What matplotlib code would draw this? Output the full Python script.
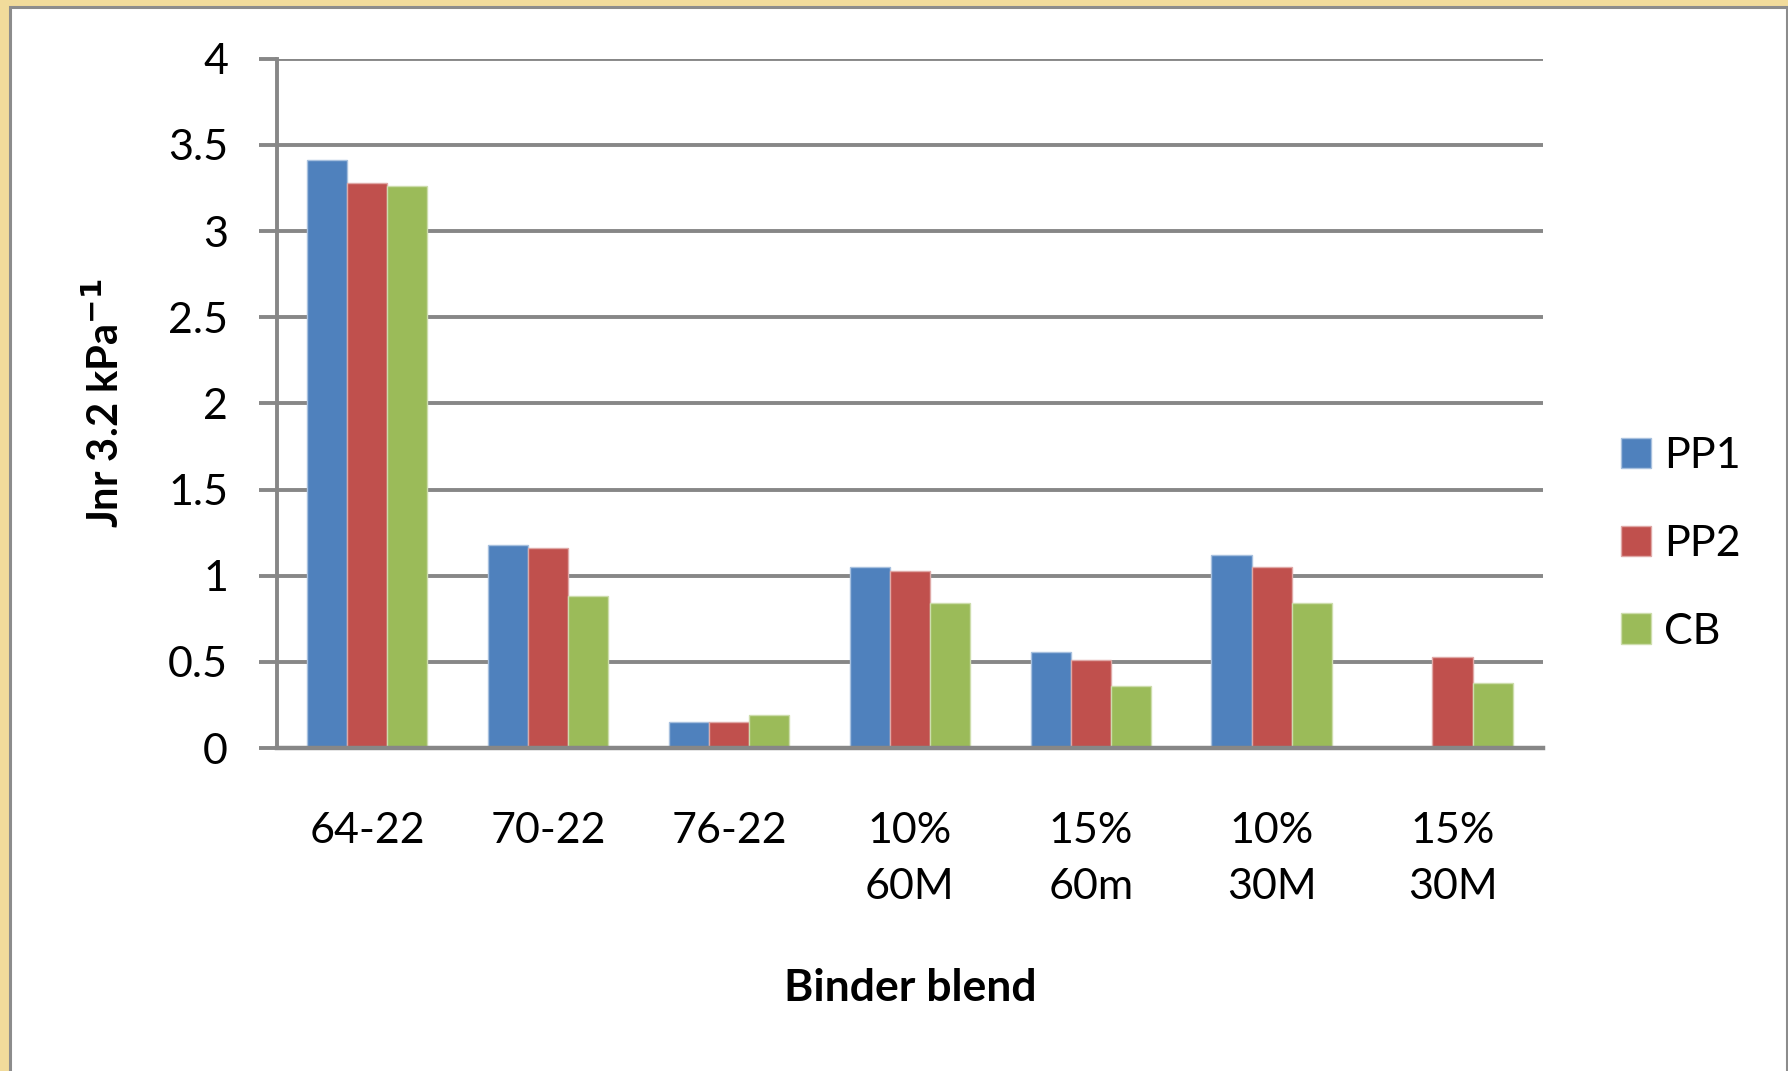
import numpy as np
import matplotlib
matplotlib.use("Agg")
import matplotlib.pyplot as plt
from matplotlib.patches import Rectangle

plt.rcParams['font.family'] = ['Lato', 'DejaVu Sans']

# Jnr at 3.2 kPa for each binder blend
blends = ["64-22", "70-22", "76-22", "10%\n60M", "15%\n60m", "10%\n30M", "15%\n30M"]
pp1 = [3.41, 1.18, 0.15, 1.05, 0.56, 1.12, np.nan]
pp2 = [3.28, 1.16, 0.15, 1.03, 0.51, 1.05, 0.53]
cb = [3.26, 0.88, 0.19, 0.84, 0.36, 0.84, 0.38]
series = [("PP1", pp1), ("PP2", pp2), ("CB", cb)]
colors = ["#4F81BD", "#C0504D", "#9BBB59"]
edges = ["#A7C0DE", "#DFA8A6", "#CDDDAC"]
y_ticks = [0, 0.5, 1, 1.5, 2, 2.5, 3, 3.5, 4]
y_ticklabels = ["0", "0.5", "1", "1.5", "2", "2.5", "3", "3.5", "4"]

W, H = 1788, 1071
fig = plt.figure(figsize=(W / 100, H / 100), dpi=100)
fig.patch.set_facecolor("#F1DB9B")

# white chart area with a grey frame
fig.patches.append(Rectangle((9.5 / W, -0.05), (1787 - 9.5) / W, (H - 7.5) / H + 0.05,
                             transform=fig.transFigure, facecolor="white",
                             edgecolor="#8C8C8C", linewidth=2.2, zorder=-5))

ax = fig.add_axes([276.7 / W, 323 / H, (1543 - 276.7) / W, (748.5 - 59.3) / H])
ax.set_facecolor("none")
ax.set_zorder(2)

grid_c = "#878787"
x = np.arange(len(blends))
bw = 0.222
for i, (name, vals) in enumerate(series):
    ax.bar(x + (i - 1) * bw, vals, width=bw, color=colors[i], edgecolor=edges[i],
           linewidth=1.0, label=name, zorder=3)

ax.set_xlim(-0.5, len(blends) - 0.5)
ax.set_ylim(0, 4)
ax.set_yticks(y_ticks)
ax.set_yticklabels(y_ticklabels)
ax.set_xticks(x)
ax.set_xticklabels(blends, linespacing=1.6, va="top")

ax.yaxis.grid(True, color=grid_c, linewidth=2.8, zorder=1)
ax.set_axisbelow(True)
for s in ["top", "right"]:
    ax.spines[s].set_visible(False)
ax.spines["left"].set_color(grid_c)
ax.spines["left"].set_linewidth(2.8)
ax.spines["bottom"].set_color(grid_c)
ax.spines["bottom"].set_linewidth(3.2)
ax.spines["bottom"].set_zorder(4)

ax.tick_params(axis="y", direction="out", length=13, width=2.8, color=grid_c,
               labelsize=31, pad=22)
ax.tick_params(axis="x", length=0, labelsize=31, pad=46)

ax.set_ylabel("Jnr 3.2 kPa$^{\\mathbf{-1}}$", fontsize=30, fontweight="bold", labelpad=30)
ax.set_xlabel("Binder blend", fontsize=32, fontweight="bold", labelpad=44)

leg = fig.legend(loc="center left", bbox_to_anchor=(1582 / W, 1 - 544 / H), frameon=False,
                 fontsize=31, handlelength=0.7, handleheight=0.7, handletextpad=0.3,
                 labelspacing=1.15)
leg.set_zorder(3)

fig.savefig("out.png", dpi=100, facecolor=fig.get_facecolor())
